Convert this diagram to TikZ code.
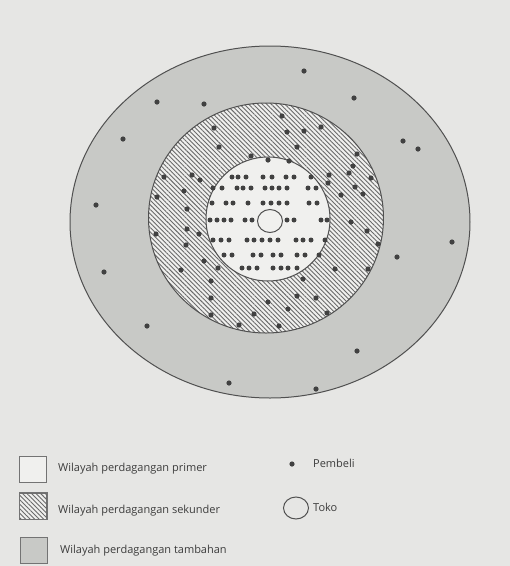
\documentclass[tikz,border=0pt]{standalone}
\usepackage{fontspec}
\setmainfont{Open Sans}
\usetikzlibrary{patterns.meta,shapes.geometric}
\definecolor{paper}{RGB}{230,230,228}
\definecolor{ringgrey}{RGB}{200,201,198}
\definecolor{inwhite}{RGB}{240,240,238}
\definecolor{ink}{RGB}{80,80,80}
\definecolor{dotc}{RGB}{65,65,65}
\definecolor{txt}{RGB}{60,60,60}
\tikzset{
  buyer/.style={fill=dotc},
  ringline/.style={draw=ink,line width=1pt},
  hatchfill/.style={pattern={Lines[angle=-45,distance=3.2pt,line width=0.9pt]},pattern color=ink!85},
  legtext/.style={anchor=west,text=txt,font=\fontsize{11}{13}\selectfont,inner sep=0pt},
  legbox/.style={draw=ink!80,line width=0.8pt,minimum width=27pt,minimum height=26pt,inner sep=0pt}
}
\begin{document}
\begin{tikzpicture}[x=1pt,y=-1pt]
\useasboundingbox (0,0) rectangle (510,566);
\fill[paper] (0,0) rectangle (510,566);
% outer zone
\draw[ringline,fill=ringgrey] (270,222) ellipse [x radius=200,y radius=176];
% secondary zone
\fill[inwhite] (266,218) ellipse [x radius=117.5,y radius=115];
\fill[hatchfill] (266,218) ellipse [x radius=117.5,y radius=115];
\draw[ringline] (266,218) ellipse [x radius=117.5,y radius=115];
% primary zone
\draw[ringline,fill=inwhite] (268,219) circle [radius=62];
% outer buyers
\foreach \x/\y in {304/71,157/102,204/104,354/98,123/139,403/141,418/149,96/205,452/242,397/257,104/272,147/326,357/351,229/383,316/389}
  \fill[buyer] (\x,\y) circle [radius=2.6];
% secondary buyers
\foreach \x/\y in {282/116,214/128,287/132,304/131,321/127,219/147,297/147,251/156,268/160,289/161,357/154,353/166,349/173,164/177,192/175,200/180,329/175,371/178,328/183,355/187,363/194,184/191,157/197,341/195,187/209,351/222,187/229,199/234,156/234,367/231,378/244,186/245,204/261,181/270,218/268,368/269,335/269,303/279,211/281,211/298,297/296,316/298,268/302,254/314,288/309,327/313,211/315,239/325,279/326}
  \fill[buyer] (\x,\y) circle [radius=2.6];
% primary buyers, row by row
\foreach \x in {232,238,246,263,272,286,294,311} \fill[buyer] (\x,177) circle [radius=2.5];
\foreach \x in {213,222,237,243,251,265,272,279,287,308,316} \fill[buyer] (\x,188) circle [radius=2.5];
\foreach \x in {212,226,233,248,263,271,279,287,309,317} \fill[buyer] (\x,203) circle [radius=2.5];
\foreach \x in {210,217,224,231,245,252,287,294,321,327} \fill[buyer] (\x,220) circle [radius=2.5];
\foreach \x in {213,221,229,247,254,262,270,278,296,303,311,325} \fill[buyer] (\x,240) circle [radius=2.5];
\foreach \x in {224,232,253,261,273,281,297,305,319} \fill[buyer] (\x,255) circle [radius=2.5];
\foreach \x in {242,249,257,273,281,288,297} \fill[buyer] (\x,268) circle [radius=2.5];
% store
\node[draw=ink,line width=1pt,fill=inwhite,ellipse,minimum width=25pt,minimum height=23pt,inner sep=0pt] (toko) at (270,221) {};
% legend
\node[legbox,fill=inwhite] (b1) at (32.5,469) {};
\node[legtext] (t1) at (58,469) {Wilayah perdagangan primer};
\node[legbox,fill=inwhite] (b2) at (33,506) {};
\fill[hatchfill] (b2.south west) rectangle (b2.north east);
\draw[ink!80,line width=0.8pt] (b2.south west) rectangle (b2.north east);
\node[legtext] (t2) at (58,511) {Wilayah perdagangan sekunder};
\node[legbox,fill=ringgrey] (b3) at (34,550) {};
\node[legtext] (t3) at (60,551) {Wilayah perdagangan tambahan};
\fill[buyer] (292,464) circle [radius=2.6];
\node[legtext] (t4) at (313,463) {Pembeli};
\node[draw=ink,line width=1pt,ellipse,minimum width=25pt,minimum height=22pt,inner sep=0pt] (tokoleg) at (296,508) {};
\node[legtext] (t5) at (313,507) {Toko};
\end{tikzpicture}
\end{document}
